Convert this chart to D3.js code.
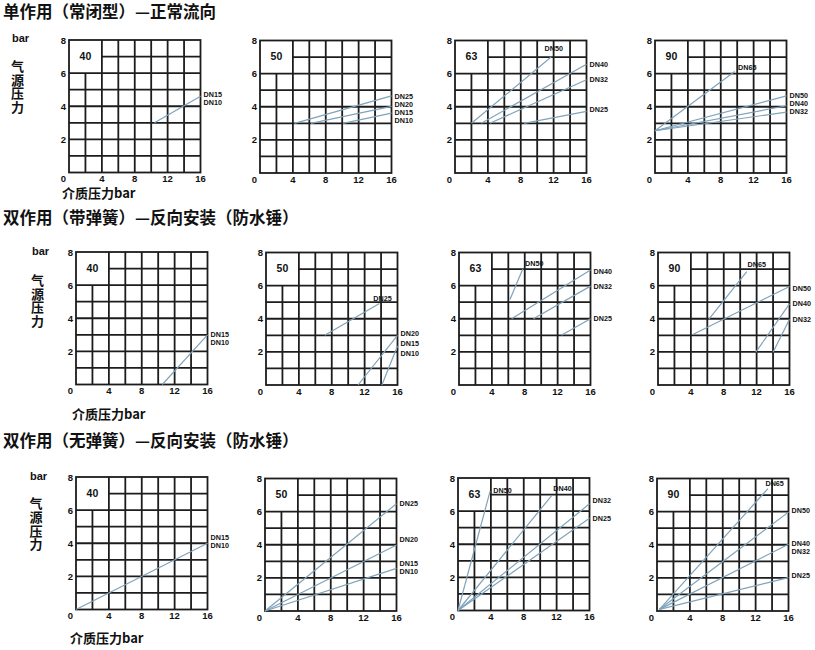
<!DOCTYPE html>
<html><head><meta charset="utf-8">
<script src="https://cdn.jsdelivr.net/npm/d3@7"></script>
<style>body{margin:0;background:#fff}svg{display:block}</style>
</head><body>
<svg id="chart" width="815" height="650"></svg>
<script>
// ---------- DATA ----------
const rowTitles = [
  "单作用（常闭型）—正常流向",
  "双作用（带弹簧）—反向安装（防水锤）",
  "双作用（无弹簧）—反向安装（防水锤）"
];
const actuatorSizes = ["40", "50", "63", "90"];
const xTickValues = [4, 8, 12, 16];
const yTickValues = [2, 4, 6, 8];
const yAxisTitle = "气源压力";
const unitLabel = "bar";
const xAxisLabel = "介质压力bar";

// Row 1: single acting, normal flow  (points are [medium pressure, air pressure])
const row1Lines = [
  [{dn: "DN15/DN10", pts: [[10.4, 3.0], [16, 4.6]]}],
  [{dn: "DN25", pts: [[4.2, 3.0], [16, 4.66]]},
   {dn: "DN20", pts: [[6.2, 3.0], [16, 4.02]]},
   {dn: "DN15", pts: [[10.1, 3.0], [16, 3.62]]}],
  [{dn: "DN50", pts: [[2.0, 3.0], [11.7, 7.0]]},
   {dn: "DN40", pts: [[3.2, 3.0], [16, 6.57]]},
   {dn: "DN32", pts: [[4.25, 3.0], [16, 5.63]]},
   {dn: "DN25", pts: [[8.4, 3.0], [16, 3.72]]}],
  [{dn: "DN65", pts: [[0, 2.55], [9.7, 6.13]]},
   {dn: "DN50", pts: [[0, 2.55], [16, 4.66]]},
   {dn: "DN40", pts: [[0, 2.55], [16, 4.06]]},
   {dn: "DN32", pts: [[0, 2.55], [16, 3.68]]}]
];
const row1Labels = [
  [{t: "DN15", x: 16, y: 4.67}, {t: "DN10", x: 16, y: 4.25}],
  [{t: "DN25", x: 16, y: 4.52}, {t: "DN20", x: 16, y: 4.07}, {t: "DN15", x: 16, y: 3.67}, {t: "DN10", x: 16, y: 3.27}],
  [{t: "DN50", x: 10.9, y: 7.49}, {t: "DN40", x: 16, y: 6.57}, {t: "DN32", x: 16, y: 5.67}, {t: "DN25", x: 16, y: 3.86}],
  [{t: "DN65", x: 10.1, y: 6.39}, {t: "DN50", x: 16, y: 4.66}, {t: "DN40", x: 16, y: 4.22}, {t: "DN32", x: 16, y: 3.78}]
];

// Row 2: double acting with spring, reverse installation
const row2Lines = [
  [{dn: "DN15/DN10", pts: [[10.5, 0], [16, 3.0]]}],
  [{dn: "DN25", pts: [[7.15, 3.0], [13.8, 4.92]]},
   {dn: "DN20/DN15", pts: [[11.2, 0], [16, 3.0]]},
   {dn: "DN10", pts: [[14.1, 0], [16, 2.35]]}],
  [{dn: "DN50", pts: [[6.2, 5.16], [7.76, 7.0]]},
   {dn: "DN40", pts: [[6.4, 4.0], [16, 6.94]]},
   {dn: "DN32", pts: [[9.06, 4.0], [16, 5.97]]},
   {dn: "DN25", pts: [[12.45, 3.0], [16, 4.0]]}],
  [{dn: "DN65", pts: [[6.2, 3.97], [10.8, 6.85]]},
   {dn: "DN50", pts: [[4.3, 3.06], [16, 5.95]]},
   {dn: "DN40", pts: [[11.9, 1.98], [16, 4.9]]},
   {dn: "DN32", pts: [[14.0, 1.98], [16, 3.97]]}]
];
const row2Labels = [
  [{t: "DN15", x: 16, y: 2.96}, {t: "DN10", x: 16, y: 2.55}],
  [{t: "DN25", x: 13.05, y: 5.22}, {t: "DN20", x: 16, y: 3.08}, {t: "DN15", x: 16, y: 2.49}, {t: "DN10", x: 16, y: 1.92}],
  [{t: "DN50", x: 8.04, y: 7.31}, {t: "DN40", x: 16, y: 6.88}, {t: "DN32", x: 16, y: 5.97}, {t: "DN25", x: 16, y: 3.99}],
  [{t: "DN65", x: 10.9, y: 7.26}, {t: "DN50", x: 16, y: 5.81}, {t: "DN40", x: 16, y: 4.9}, {t: "DN32", x: 16, y: 3.97}]
];

// Row 3: double acting without spring, reverse installation
const row3Lines = [
  [{dn: "DN15/DN10", pts: [[0, 0], [16, 4.0]]}],
  [{dn: "DN25", pts: [[0, 0], [16, 6.48]]},
   {dn: "DN20", pts: [[0, 0], [16, 3.99]]},
   {dn: "DN15/DN10", pts: [[0, 0], [16, 2.57]]}],
  [{dn: "DN50", pts: [[0, 0], [3.9, 7.19]]},
   {dn: "DN40", pts: [[0, 0], [11.4, 6.94]]},
   {dn: "DN32", pts: [[0, 0], [16, 6.44]]},
   {dn: "DN25", pts: [[0, 0], [16, 5.57]]}],
  [{dn: "DN65", pts: [[0.3, 0.1], [13.5, 7.39]]},
   {dn: "DN50", pts: [[0.3, 0.1], [16, 5.97]]},
   {dn: "DN40/DN32", pts: [[0.3, 0.1], [16, 4.03]]},
   {dn: "DN25", pts: [[0.3, 0.1], [16, 2.02]]}]
];
const row3Labels = [
  [{t: "DN15", x: 16, y: 4.29}, {t: "DN10", x: 16, y: 3.89}],
  [{t: "DN25", x: 16, y: 6.48}, {t: "DN20", x: 16, y: 4.29}, {t: "DN15", x: 16, y: 2.83}, {t: "DN10", x: 16, y: 2.47}],
  [{t: "DN50", x: 4.29, y: 7.27}, {t: "DN40", x: 11.6, y: 7.39}, {t: "DN32", x: 16, y: 6.62}, {t: "DN25", x: 16, y: 5.53}],
  [{t: "DN65", x: 13.2, y: 7.69}, {t: "DN50", x: 16, y: 6.07}, {t: "DN40", x: 16, y: 4.09}, {t: "DN32", x: 16, y: 3.62}, {t: "DN25", x: 16, y: 2.17}]
];

const allLines = [row1Lines, row2Lines, row3Lines];
const allLabels = [row1Labels, row2Labels, row3Labels];

// ---------- LAYOUT ----------
const PW = 131.5, PH = 132.5;
const rows = [
  {titleY: 18, unitX: 12, unitY: 42, vX: 17.5, vTop: 59.5, xlX: 62, xlY: 197.5,
   panels: [[69, 40], [260, 40.5], [455, 40.5], [655, 40.5]]},
  {titleY: 224, unitX: 32, unitY: 255, vX: 37.5, vTop: 273.5, xlX: 72, xlY: 418.5,
   panels: [[76, 252], [266, 252.5], [459, 252.5], [658, 252.5]]},
  {titleY: 447, unitX: 30, unitY: 480, vX: 36, vTop: 497, xlX: 70, xlY: 642.5,
   panels: [[76, 477], [265, 478.5], [458, 478], [657, 478.5]]}
];

const CJK = "'Noto Sans CJK SC', 'Noto Sans', sans-serif";
const LAT = "'Liberation Sans', Arial, sans-serif";
const gridColor = "#1c1c1c";
const lineColor = "#7fa3ba";
const DN_FONT = 7.2, DN_GAP = 8;

const svg = d3.select("#chart");
const x = d3.scaleLinear().domain([0, 16]).range([0, PW]);
const y = d3.scaleLinear().domain([0, 8]).range([PH, 0]);

const vSegs = d3.range(2, 16, 2).map(v => ({x: v, y0: 0, y1: v === 2 ? 6 : 8}));
const hSegs = d3.range(1, 8).map(v => ({y: v, x0: v === 7 ? 4 : 0, x1: 16}));

rows.forEach((r, ri) => {
  svg.append("text").attr("x", 3).attr("y", r.titleY)
    .attr("font-family", CJK).attr("font-weight", 700).attr("font-size", 16.5)
    .attr("fill", "#111").text(rowTitles[ri]);
  svg.append("text").attr("x", r.unitX).attr("y", r.unitY)
    .attr("font-family", LAT).attr("font-weight", 700).attr("font-size", 11)
    .attr("fill", "#111").text(unitLabel);
  svg.append("text").attr("x", r.vX).attr("y", r.vTop)
    .style("writing-mode", "vertical-rl")
    .attr("letter-spacing", 0.6)
    .attr("font-family", CJK).attr("font-weight", 700).attr("font-size", 13)
    .attr("fill", "#111").text(yAxisTitle);
  svg.append("text").attr("x", r.xlX).attr("y", r.xlY)
    .attr("font-family", CJK).attr("font-weight", 700).attr("font-size", 13)
    .attr("fill", "#111").text(xAxisLabel);

  r.panels.forEach((p, pi) => {
    const g = svg.append("g").attr("transform", `translate(${p[0]},${p[1]})`);
    g.selectAll(".v").data(vSegs).join("line")
      .attr("x1", d => x(d.x)).attr("x2", d => x(d.x))
      .attr("y1", d => y(d.y0)).attr("y2", d => y(d.y1))
      .attr("stroke", gridColor).attr("stroke-width", 1.8);
    g.selectAll(".h").data(hSegs).join("line")
      .attr("y1", d => y(d.y)).attr("y2", d => y(d.y))
      .attr("x1", d => x(d.x0)).attr("x2", d => x(d.x1))
      .attr("stroke", gridColor).attr("stroke-width", 1.8);
    g.append("rect").attr("x", x(0)).attr("y", y(8))
      .attr("width", x(16) - x(0)).attr("height", y(0) - y(8))
      .attr("fill", "none").attr("stroke", gridColor).attr("stroke-width", 1.8);

    g.selectAll(".yt").data(yTickValues).join("text")
      .attr("x", -3).attr("y", d => y(d))
      .attr("text-anchor", "end").attr("dominant-baseline", "central")
      .attr("font-family", LAT).attr("font-weight", 700).attr("font-size", 9.5)
      .attr("fill", "#111").text(d => d);
    g.append("text").attr("x", -3).attr("y", y(0) + 6)
      .attr("text-anchor", "end").attr("dominant-baseline", "central")
      .attr("font-family", LAT).attr("font-weight", 700).attr("font-size", 9.5)
      .attr("fill", "#111").text(0);
    g.selectAll(".xt").data(xTickValues).join("text")
      .attr("x", d => x(d)).attr("y", y(0) + 6)
      .attr("text-anchor", "middle").attr("dominant-baseline", "central")
      .attr("font-family", LAT).attr("font-weight", 700).attr("font-size", 9.5)
      .attr("fill", "#111").text(d => d);

    g.append("text").attr("x", x(2)).attr("y", y(7.05))
      .attr("text-anchor", "middle").attr("dominant-baseline", "central")
      .attr("font-family", LAT).attr("font-weight", 700).attr("font-size", 10.5)
      .attr("fill", "#111").text(actuatorSizes[pi]);

    const lineGen = d3.line().x(d => x(d[0])).y(d => y(d[1]));
    g.selectAll(".dl").data(allLines[ri][pi]).join("path")
      .attr("d", d => lineGen(d.pts))
      .attr("fill", "none").attr("stroke", lineColor).attr("stroke-width", 1.2);

    // DN labels: right-side labels relaxed to stay at least DN_GAP px apart
    const labs = allLabels[ri][pi].map(d => ({...d, px: x(d.x) + (d.x >= 16 ? 3 : 0), py: y(d.y)}));
    const right = labs.filter(d => d.x >= 16).sort((a, b) => a.py - b.py);
    for (let it = 0; it < 40; it++) {
      for (let i = 1; i < right.length; i++) {
        const gap = right[i].py - right[i - 1].py;
        if (gap < DN_GAP) {
          const shift = (DN_GAP - gap) / 2 + 0.01;
          right[i - 1].py -= shift;
          right[i].py += shift;
        }
      }
    }
    g.selectAll(".dn").data(labs).join("text")
      .attr("x", d => d.px).attr("y", d => d.py)
      .attr("dominant-baseline", "central")
      .attr("font-family", LAT).attr("font-weight", 700).attr("font-size", DN_FONT)
      .attr("fill", "#111").text(d => d.t);
  });
});
</script>
</body></html>
